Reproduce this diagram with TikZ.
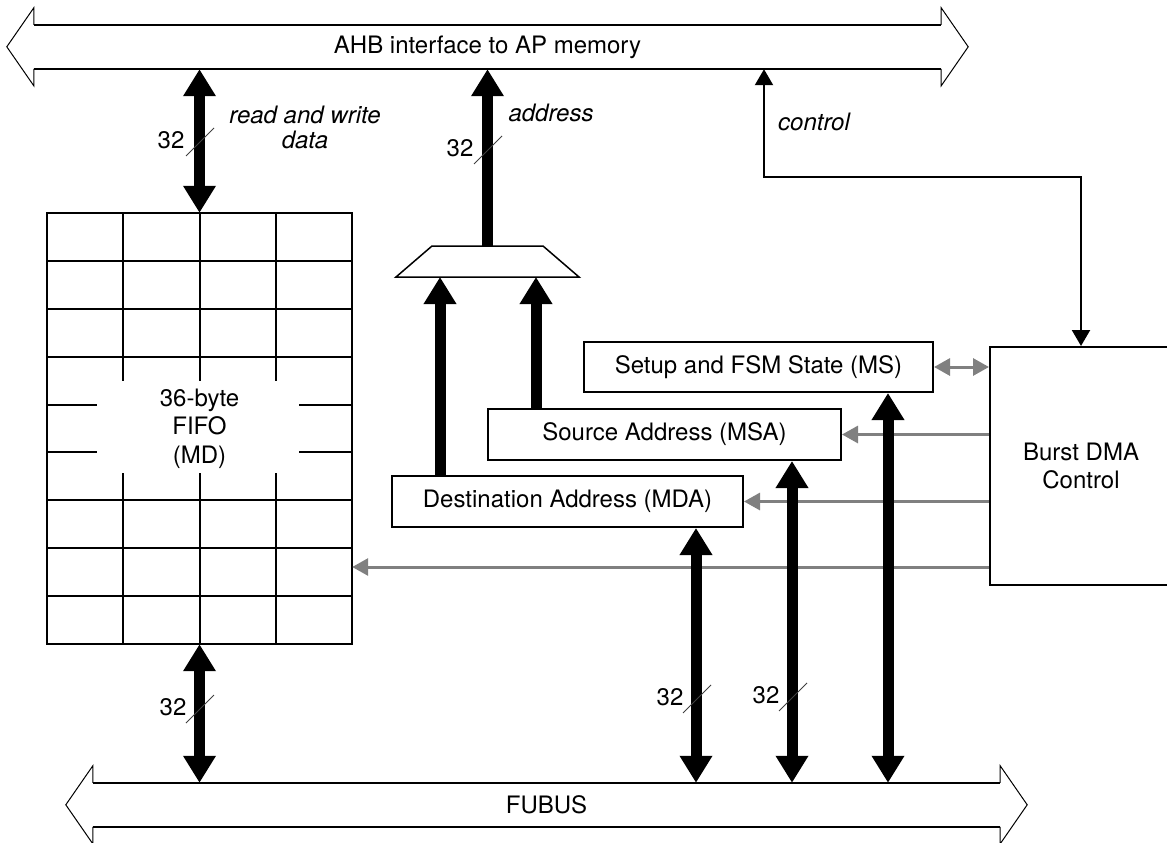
\documentclass[tikz,border=0pt]{standalone}
\usepackage{fontspec}
\setmainfont{TeX Gyre Heros}
\usetikzlibrary{arrows.meta}
\begin{document}
\begin{tikzpicture}[x=1pt,y=-1pt,
  every node/.style={font=\fontsize{24}{28.5}\selectfont, inner sep=0pt},
  box/.style={draw, line width=2pt},
  thickarr/.style={line width=11pt, -{Triangle[width=31pt,length=27pt]}},
  thickbi/.style={line width=11pt, {Triangle[width=31pt,length=27pt]}-{Triangle[width=31pt,length=27pt]}},
  ctlarr/.style={color=gray, line width=3pt, -{Triangle[width=17pt,length=16pt]}},
  ctlbi/.style={color=gray, line width=3pt, {Triangle[width=17pt,length=16pt]}-{Triangle[width=17pt,length=16pt]}},
  blkbi/.style={color=black, line width=2.2pt, {Triangle[width=18pt,length=16pt]}-{Triangle[width=18pt,length=16pt]}},
  busedge/.style={line width=2.2pt},
  bushead/.style={line width=1pt, line join=miter},
  slash/.style={line width=0.8pt, color=black!75},
  lbl/.style={font=\fontsize{24}{25}\selectfont\itshape, align=center},
  gridline/.style={line width=2pt},
]
\useasboundingbox (0,0) rectangle (1167,843);

% ---- buses ----
\node[minimum width=907pt, minimum height=44pt] (ahb) at (487.5,47) {AHB interface to AP memory};
\draw[busedge] (ahb.north west) -- (ahb.north east) (ahb.south west) -- (ahb.south east);
\draw[bushead] (ahb.north west) -- ++(0,-17) -- ++(-27,39) -- ++(27,39) -- ++(0,-17);
\draw[bushead] (ahb.north east) -- ++(0,-17) -- ++(27,39) -- ++(-27,39) -- ++(0,-17);

\node[minimum width=907pt, minimum height=44pt] (fubus) at (546.5,805) {FUBUS};
\draw[busedge] (fubus.north west) -- (fubus.north east) (fubus.south west) -- (fubus.south east);
\draw[bushead] (fubus.north west) -- ++(0,-17) -- ++(-27,39) -- ++(27,39) -- ++(0,-17);
\draw[bushead] (fubus.north east) -- ++(0,-17) -- ++(27,39) -- ++(-27,39) -- ++(0,-17);

% ---- FIFO ----
\node[minimum width=305pt, minimum height=431pt] (fifo) at (199.5,428.5) {};
\foreach \i in {1,2,3} \draw[gridline] (47+76.25*\i,213) -- (47+76.25*\i,644);
\foreach \j in {1,...,8} \draw[gridline] (47,213+47.889*\j) -- (352,213+47.889*\j);
\fill[white] (97,381) rectangle (299,473);
\draw[box] (fifo.north west) rectangle (fifo.south east);
\node[align=center] (fifotxt) at (fifo.center) {36-byte\\FIFO\\(MD)};

% ---- register boxes ----
\node[box, minimum width=349pt, minimum height=50pt] (ms) at (758.5,367) {Setup and FSM State (MS)};
\node[box, minimum width=353pt, minimum height=51pt] (msa) at (664.5,434.5) {Source Address (MSA)};
\node[box, minimum width=351pt, minimum height=51pt] (mda) at (567.5,501.5) {Destination Address (MDA)};
\node[box, minimum width=182pt, minimum height=238pt, align=center] (burst) at (1081,466) {Burst DMA\\Control};

% ---- mux ----
\draw[line width=1.5pt, line join=miter] (396,277) -- (579,277) -- (543,246) -- (432,246) -- cycle;
\coordinate (muxtop) at (487.5,246);
\coordinate (muxinL) at (440,277);
\coordinate (muxinR) at (536,277);

% ---- grey control arrows ----
\coordinate (yF) at (0,567);
\draw[ctlbi] (ms.east) -- (ms.east -| burst.west);
\draw[ctlarr] (burst.west |- msa.east) -- (msa.east);
\draw[ctlarr] (burst.west |- mda.east) -- (mda.east);
\draw[ctlarr] (burst.west |- yF) -- (yF -| fifo.east);

% ---- control line ----
\coordinate (cx) at (764,0);
\coordinate (cy) at (0,177);
\draw[blkbi] (ahb.south -| cx) |- (cy -| burst.north) -- (burst.north);
\node[lbl, anchor=west] (ctllbl) at (778,122) {control};

% ---- thick data/address arrows ----
\coordinate (xA) at (696,0);
\coordinate (xB) at (792,0);
\coordinate (xC) at (888,0);
\draw[thickbi] (fifo.north) -- (fifo.north |- ahb.south);
\draw[thickarr] (muxtop) -- (muxtop |- ahb.south);
\draw[thickarr] (muxinL |- mda.north) -- (muxinL);
\draw[thickarr] (muxinR |- msa.north) -- (muxinR);
\draw[thickbi] (fifo.south) -- (fifo.south |- fubus.north);
\draw[thickbi] (mda.south -| xA) -- (fubus.north -| xA);
\draw[thickbi] (msa.south -| xB) -- (fubus.north -| xB);
\draw[thickbi] (ms.south -| xC) -- (fubus.north -| xC);

% ---- labels ----
\node[lbl] (rwlbl) at (305,127.5) {read and write\\data};
\node[lbl] (addrlbl) at (551,113) {address};

\node (n1) at (171,140) {32};
\draw[slash] (186,156) -- (214,128);
\node (n2) at (460,148) {32};
\draw[slash] (474,164) -- (502,136);
\node (n3) at (173,707) {32};
\draw[slash] (186,723) -- (214,695);
\node (n4) at (670,697) {32};
\draw[slash] (683,713) -- (711,685);
\node (n5) at (766,695) {32};
\draw[slash] (779,711) -- (807,683);
\end{tikzpicture}
\end{document}
